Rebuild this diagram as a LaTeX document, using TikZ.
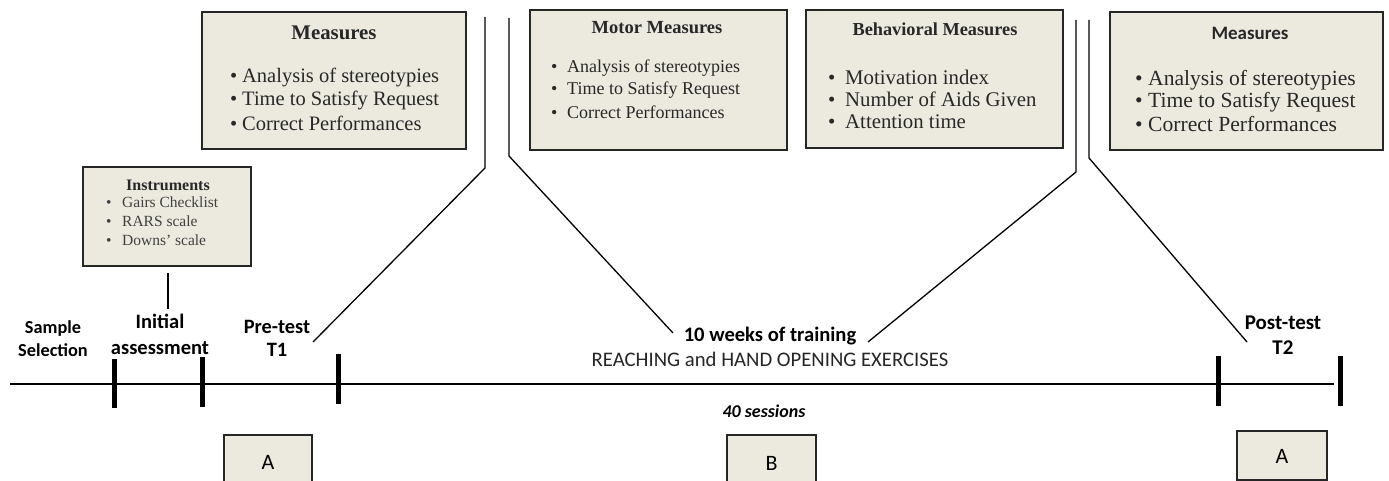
\documentclass[tikz,border=0pt]{standalone}
\usepackage{fontspec}
\setmainfont{Liberation Serif}
\newfontfamily\calfont{Carlito}
\definecolor{boxfill}{RGB}{236,233,223}
\definecolor{boxtext}{RGB}{40,40,40}
\newcommand\bitem[2]{\makebox[#1][l]{\textbullet}#2}
\begin{document}
\begin{tikzpicture}[x=1pt,y=-1pt,
  box/.style={draw=black!85, line width=1.5pt, fill=boxfill, inner sep=0pt},
  conn/.style={draw=black, line width=1.3pt},
  tick/.style={draw=black, line width=5pt},
  lbl/.style={font=\calfont\bfseries\fontsize{18}{22}\selectfont, align=center, inner sep=0pt},
  itm/.style={anchor=west, inner sep=0pt, text=boxtext},
  ttl/.style={inner sep=0pt, font=\bfseries, text=boxtext}]
\clip (0,0) rectangle (1389,481);
\fill[white] (0,0) rectangle (1389,481);

% ---- boxes ----
\node[box, minimum width=264, minimum height=137] (m1) at (334,80.5) {};
\node[box, minimum width=257, minimum height=140] (mot) at (658.5,80) {};
\node[box, minimum width=257, minimum height=138] (beh) at (934.5,79) {};
\node[box, minimum width=273, minimum height=138] (m2) at (1246.5,81) {};
\node[box, minimum width=168, minimum height=99] (ins) at (167,216.5) {};
\node[box, minimum width=88, minimum height=52] (a1) at (268,461) {};
\node[box, minimum width=89, minimum height=52] (b1) at (771.5,461) {};
\node[box, minimum width=90, minimum height=49] (a2) at (1282,455.5) {};

% ---- box texts ----
\node[ttl, font=\bfseries\fontsize{20.8}{22}\selectfont] (m1t) at (334,33) {Measures};
\begin{scope}[every node/.style={itm, font=\fontsize{20.5}{22}\selectfont}]
\node (m1a) at (230,77) {\bitem{12pt}{Analysis of stereotypies}};
\node (m1b) at (230,100) {\bitem{12pt}{Time to Satisfy Request}};
\node (m1c) at (230,123) {\bitem{12pt}{Correct Performances}};
\end{scope}

\node[ttl, font=\bfseries\fontsize{18.5}{20}\selectfont] (mott) at (657,28) {Motor Measures};
\begin{scope}[every node/.style={itm, font=\fontsize{18}{20}\selectfont}]
\node (mota) at (551,68) {\bitem{16pt}{Analysis of stereotypies}};
\node (motb) at (551,90) {\bitem{16pt}{Time to Satisfy Request}};
\node (motc) at (551,112) {\bitem{16pt}{Correct Performances}};
\end{scope}

\node[ttl, font=\bfseries\fontsize{18.3}{20}\selectfont] (beht) at (935,29) {Behavioral Measures};
\begin{scope}[every node/.style={itm, font=\fontsize{20.8}{22}\selectfont}]
\node (beha) at (828,77) {\bitem{17pt}{Motivation index}};
\node (behb) at (828,99) {\bitem{17pt}{Number of Aids Given}};
\node (behc) at (828,122) {\bitem{17pt}{Attention time}};
\end{scope}

\node[ttl, font=\calfont\bfseries\fontsize{19}{22}\selectfont] (m2t) at (1250,33) {Measures};
\begin{scope}[every node/.style={itm, font=\fontsize{21.6}{22}\selectfont}]
\node (m2a) at (1135,80) {\bitem{13pt}{Analysis of stereotypies}};
\node (m2b) at (1135,102) {\bitem{13pt}{Time to Satisfy Request}};
\node (m2c) at (1135,124) {\bitem{13pt}{Correct Performances}};
\end{scope}

\node[ttl, font=\bfseries\fontsize{16}{18}\selectfont] (inst) at (168,185) {Instruments};
\begin{scope}[every node/.style={itm, font=\fontsize{15.5}{18}\selectfont, text=black!75}]
\node (insa) at (106,202) {\bitem{16pt}{Gairs Checklist}};
\node (insb) at (106,221) {\bitem{16pt}{RARS scale}};
\node (insc) at (106,240) {\bitem{16pt}{Downs’ scale}};
\end{scope}

\node[inner sep=0pt, font=\calfont\fontsize{22}{24}\selectfont] at (a1.center) [yshift=-1pt] {A};
\node[inner sep=0pt, font=\calfont\fontsize{22}{24}\selectfont] at (b1.center) [yshift=-2pt] {B};
\node[inner sep=0pt, font=\calfont\fontsize{22}{24}\selectfont] at (a2.center) [yshift=-1pt] {A};

% ---- timeline labels ----
\node[lbl, font=\calfont\bfseries\fontsize{18.3}{23}\selectfont] (ss) at (53,339) {Sample\\Selection};
\node[lbl, font=\calfont\bfseries\fontsize{20.5}{26}\selectfont] (ia) at (160,334) {Initial\\assessment};
\node[lbl, font=\calfont\bfseries\fontsize{20.4}{23}\selectfont] (pre) at (277,338) {Pre-test\\T1};
\node[lbl, font=\calfont\bfseries\fontsize{21}{25}\selectfont] (post) at (1283,335) {Post-test\\T2};
\node[lbl, font=\calfont\bfseries\fontsize{20.6}{22}\selectfont] (tw) at (770,336) {10 weeks of training};
\node[inner sep=0pt, font=\calfont\fontsize{20.7}{22}\selectfont, text=black!85] (rh) at (770,359) {REACHING and HAND OPENING EXERCISES};
\node[inner sep=0pt, font=\calfont\bfseries\itshape\fontsize{18}{20}\selectfont] (ses) at (764,411) {40 sessions};

% ---- timeline ----
\coordinate (tl0) at (10,384);
\coordinate (tl1) at (1334,384);
\draw[line width=1.5pt] (tl0) -- (tl1);
\coordinate (k1) at (114,359); \coordinate (k1e) at (114,408);
\coordinate (k2) at (202,357); \coordinate (k2e) at (202,407);
\coordinate (k3) at (338,354); \coordinate (k3e) at (338,404);
\coordinate (k4) at (1218,356); \coordinate (k4e) at (1218,406);
\coordinate (k5) at (1340,356); \coordinate (k5e) at (1340,406);
\foreach \k in {k1,k2,k3,k4,k5} \draw[tick] (\k) -- (\k e);

% ---- connectors ----
\coordinate (i1) at (168,273); \coordinate (i2) at (168,309);
\draw[conn] (i1) -- (i2);

\coordinate (p1) at (485,17); \coordinate (p2) at (485,168); \coordinate (p3) at (313,342);
\draw[conn] (p1) -- (p2) -- (p3);
\coordinate (q1) at (509,18); \coordinate (q2) at (509,156); \coordinate (q3) at (673,333);
\draw[conn] (q1) -- (q2) -- (q3);
\coordinate (r1) at (1076,20); \coordinate (r2) at (1076,172); \coordinate (r3) at (868,342);
\draw[conn] (r1) -- (r2) -- (r3);
\coordinate (s1) at (1089,20); \coordinate (s2) at (1089,158); \coordinate (s3) at (1247,342);
\draw[conn] (s1) -- (s2) -- (s3);
\end{tikzpicture}
\end{document}
